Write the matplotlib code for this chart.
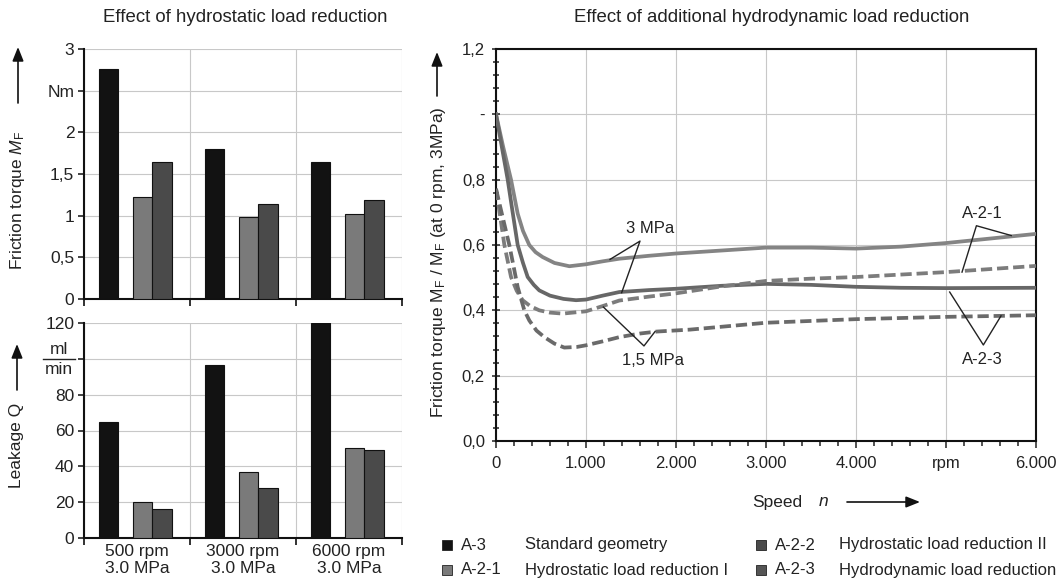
import matplotlib.pyplot as plt
from matplotlib.patches import Rectangle, FancyArrowPatch
from matplotlib.lines import Line2D
from matplotlib.ticker import MultipleLocator, FixedLocator

plt.rcParams['font.family'] = ['Liberation Sans', 'DejaVu Sans']
plt.rcParams['mathtext.fontset'] = 'custom'
plt.rcParams['mathtext.rm'] = 'Liberation Sans'
plt.rcParams['mathtext.it'] = 'Liberation Sans:italic'
plt.rcParams['text.color'] = '#222222'
plt.rcParams['xtick.color'] = '#222222'
plt.rcParams['ytick.color'] = '#222222'

# --- bar data (three operating points) ---
groups = ['500 rpm\n3.0 MPa', '3000 rpm\n3.0 MPa', '6000 rpm\n3.0 MPa']
torque_a3 = [2.76, 1.80, 1.64]
torque_a21 = [1.23, 0.99, 1.02]
torque_a22 = [1.65, 1.14, 1.19]
leak_a3 = [65, 96.6, 120]
leak_a21 = [20.3, 37, 50.1]
leak_a22 = [16.4, 28, 49]

# --- normalised friction torque vs speed ---
n_a21_3 = [0, 80, 167, 241, 300, 370, 440, 519, 650, 815, 1000, 1185, 1370, 1700,
           2000, 2500, 3000, 3500, 4000, 4500, 5000, 5500, 6000]
v_a21_3 = [1.0, 0.90, 0.80, 0.696, 0.643, 0.60, 0.578, 0.563, 0.545, 0.535, 0.541,
           0.55, 0.558, 0.567, 0.574, 0.583, 0.592, 0.592, 0.589, 0.595, 0.606, 0.620,
           0.634]
n_a23_3 = [0, 65, 130, 185, 241, 300, 352, 420, 481, 600, 750, 889, 1000, 1185, 1370,
           1700, 2000, 2500, 3000, 3500, 4000, 4500, 5000, 6000]
v_a23_3 = [1.0, 0.90, 0.80, 0.70, 0.60, 0.545, 0.502, 0.478, 0.461, 0.445, 0.435,
           0.431, 0.433, 0.445, 0.456, 0.462, 0.466, 0.475, 0.481, 0.478, 0.472, 0.469,
           0.468, 0.469]
n_a21_15 = [0, 45, 93, 167, 230, 296, 380, 481, 600, 741, 1000, 1185, 1370, 1700,
            2000, 2500, 3000, 3500, 4000, 5000, 6000]
v_a21_15 = [0.772, 0.69, 0.60, 0.502, 0.46, 0.431, 0.413, 0.40, 0.393, 0.39, 0.397,
            0.413, 0.43, 0.442, 0.452, 0.473, 0.49, 0.497, 0.502, 0.517, 0.536]
n_a23_15 = [0, 70, 148, 195, 241, 315, 370, 450, 537, 650, 759, 900, 1000, 1185,
            1370, 1600, 1785, 2156, 3000, 4000, 5000, 6000]
v_a23_15 = [0.772, 0.69, 0.60, 0.535, 0.471, 0.40, 0.369, 0.338, 0.318, 0.298, 0.286,
            0.288, 0.293, 0.305, 0.318, 0.329, 0.335, 0.341, 0.362, 0.373, 0.380, 0.385]

c_a3 = '#121212'
c_a21 = '#7a7a7a'
c_a22 = '#4a4a4a'
c_a23 = '#555555'
grid_c = '#c8c8c8'

W, H = 1062, 581
fig = plt.figure(figsize=(W / 100, H / 100), dpi=100)


def box(left, top, right, bottom):
    return [left / W, 1 - bottom / H, (right - left) / W, (bottom - top) / H]


def fy(y):
    return 1 - y / H


ax_t = fig.add_axes(box(84, 49, 402, 299))
ax_b = fig.add_axes(box(84, 323, 402, 538))
ax_r = fig.add_axes(box(496, 49, 1036, 441))

offsets = [0.231, 0.55, 0.735]
bw = 0.184


def bars(ax, series):
    for off, vals, col in zip(offsets, series, [c_a3, c_a21, c_a22]):
        ax.bar([i + off for i in range(len(vals))], vals, width=bw, color=col,
               edgecolor='#111111', linewidth=0.8, zorder=3)
    ax.set_xlim(0, 3)
    ax.xaxis.set_major_locator(FixedLocator([0, 1, 2, 3]))
    ax.xaxis.set_minor_locator(FixedLocator([0.5, 1.5, 2.5]))
    ax.set_xticklabels([])
    ax.tick_params(axis='x', which='major', direction='out', length=5, width=1.3)
    ax.tick_params(axis='x', which='minor', length=0)
    ax.tick_params(axis='y', direction='out', length=4, width=1.2, labelsize=12.5, pad=3)
    ax.grid(True, color=grid_c, linewidth=0.8, zorder=0)
    for s in ['top', 'right']:
        ax.spines[s].set_visible(False)
    for s in ['left', 'bottom']:
        ax.spines[s].set_linewidth(1.5)
        ax.spines[s].set_color('#111111')


bars(ax_t, [torque_a3, torque_a21, torque_a22])
ax_t.set_ylim(0, 3)
ax_t.set_yticks([0, 0.5, 1, 1.5, 2, 2.5, 3])
ax_t.set_yticklabels(['0', '0,5', '1', '1,5', '2', 'Nm', '3'])

bars(ax_b, [leak_a3, leak_a21, leak_a22])
ax_b.set_ylim(0, 120)
ax_b.set_yticks([0, 20, 40, 60, 80, 100, 120])
ax_b.set_yticklabels(['0', '20', '40', '60', '80', '', '120'])
ax_b.set_xticklabels(groups, minor=True, fontsize=12.5)
ax_b.tick_params(axis='x', which='minor', pad=4)

# unit fraction on the leakage axis
fig.text(59 / W, fy(349), 'ml', ha='center', va='center', fontsize=12.5)
fig.text(59 / W, fy(370), 'min', ha='center', va='center', fontsize=12.5)
fig.add_artist(Line2D([43 / W, 75 / W], [fy(359), fy(359)], color='#222222', lw=1))

# right panel curves
dash = (0, (3.0, 1.3))
ax_r.plot(n_a21_3, v_a21_3, color='#848484', lw=2.7, solid_joinstyle='round', zorder=3)
ax_r.plot(n_a23_3, v_a23_3, color='#676767', lw=2.7, solid_joinstyle='round', zorder=3)
ax_r.plot(n_a21_15, v_a21_15, color='#7c7c7c', lw=2.7, ls=dash, zorder=3)
ax_r.plot(n_a23_15, v_a23_15, color='#6a6a6a', lw=2.7, ls=dash, zorder=3)

ax_r.set_xlim(0, 6000)
ax_r.set_ylim(0, 1.2)
ax_r.set_xticks([0, 1000, 2000, 3000, 4000, 5000, 6000])
ax_r.set_xticklabels(['0', '1.000', '2.000', '3.000', '4.000', 'rpm', '6.000'])
ax_r.set_yticks([0, 0.2, 0.4, 0.6, 0.8, 1.0, 1.2])
ax_r.set_yticklabels(['0,0', '0,2', '0,4', '0,6', '0,8', '-', '1,2'])
ax_r.xaxis.set_minor_locator(MultipleLocator(200))
ax_r.yaxis.set_minor_locator(MultipleLocator(0.04))
ax_r.tick_params(which='both', labelsize=12, width=1.1)
ax_r.tick_params(axis='x', which='major', direction='out', length=5, pad=6)
ax_r.tick_params(axis='x', which='minor', direction='out', length=3.5)
ax_r.tick_params(axis='y', which='major', direction='inout', length=6, pad=5)
ax_r.tick_params(axis='y', which='minor', direction='inout', length=4)
ax_r.grid(True, color=grid_c, linewidth=0.8, zorder=0)
for s in ax_r.spines.values():
    s.set_linewidth(1.5)
    s.set_color('#111111')

# leader lines and curve labels
lk = dict(color='#222222', lw=1.0, zorder=4)
ax_r.plot([1267, 1600, 1396], [0.556, 0.612, 0.454], **lk)
ax_r.text(1711, 0.649, '3 MPa', ha='center', va='center', fontsize=12)
ax_r.plot([1193, 1644, 1767], [0.41, 0.291, 0.335], **lk)
ax_r.text(1748, 0.245, '1,5 MPa', ha='center', va='center', fontsize=12)
ax_r.plot([5725, 5338, 5178], [0.629, 0.659, 0.517], **lk)
ax_r.text(5406, 0.675, 'A-2-1', ha='center', va='bottom', fontsize=12)
ax_r.plot([5041, 5415, 5611], [0.456, 0.294, 0.383], **lk)
ax_r.text(5406, 0.249, 'A-2-3', ha='center', va='center', fontsize=12)

# titles
fig.text(103 / W, fy(18), 'Effect of hydrostatic load reduction', ha='left',
         va='center', fontsize=13.4)
fig.text(574 / W, fy(18), 'Effect of additional hydrodynamic load reduction',
         ha='left', va='center', fontsize=13.4)

# axis labels with arrows
fig.text(18 / W, fy(200), r'Friction torque $\mathit{M}_{\rm F}$', rotation=90,
         ha='center', va='center', fontsize=12.5)
fig.text(17 / W, fy(445), 'Leakage Q', rotation=90, ha='center', va='center',
         fontsize=12.5)
fig.text(438 / W, fy(262), r'Friction torque M$_{\rm F}$ / M$_{\rm F}$ (at 0 rpm, 3MPa)',
         rotation=90, ha='center', va='center', fontsize=12.5)
fig.text(752 / W, fy(502), 'Speed', ha='left', va='center', fontsize=12.5)
fig.text(824 / W, fy(502), 'n', ha='center', va='center', fontsize=12.5, style='italic')


def arrow(x0, y0, x1, y1):
    fig.add_artist(FancyArrowPatch(
        (x0 / W, fy(y0)), (x1 / W, fy(y1)), transform=fig.transFigure,
        arrowstyle='-|>,head_length=0.7,head_width=0.28', mutation_scale=12,
        color='#111111', lw=1.2, shrinkA=0, shrinkB=0))


arrow(18, 103, 18, 47)
arrow(17, 390, 17, 344)
arrow(437, 96, 437, 52)
arrow(847, 502, 920, 502)

# legend
legend_rows = [
    (447, 545, c_a3, 'A-3', 'Standard geometry'),
    (447, 570, c_a21, 'A-2-1', 'Hydrostatic load reduction I'),
    (761, 545, c_a22, 'A-2-2', 'Hydrostatic load reduction II'),
    (761, 570, c_a23, 'A-2-3', 'Hydrodynamic load reduction'),
]
for x, y, col, code, desc in legend_rows:
    fig.add_artist(Rectangle(((x - 5) / W, fy(y + 5)), 10 / W, 10 / H,
                             transform=fig.transFigure, facecolor=col,
                             edgecolor='#222222', lw=0.6))
    fig.text((x + 14) / W, fy(y), code, ha='left', va='center', fontsize=12)
    fig.text((x + 78) / W, fy(y), desc, ha='left', va='center', fontsize=12)

fig.savefig('out.png', dpi=100)
